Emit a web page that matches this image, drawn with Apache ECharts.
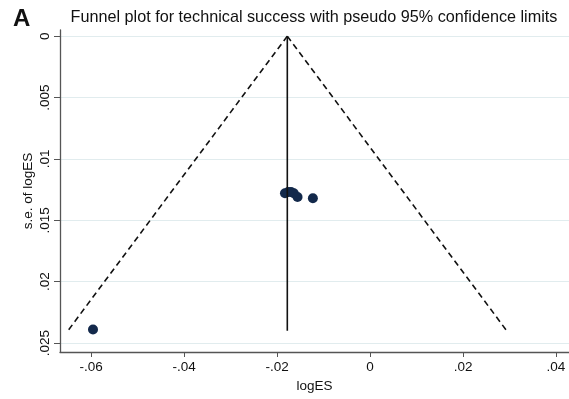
<!DOCTYPE html>
<html>
<head>
<meta charset="utf-8">
<script src="https://cdn.jsdelivr.net/npm/echarts@6/dist/echarts.min.js"></script>
<style>html,body{margin:0;padding:0;background:#fff}#c{width:569px;height:399px}</style>
</head>
<body>
<div id="c"></div>
<script>
// Study estimates
const logES = [-0.0183, -0.0176, -0.0170, -0.0164, -0.0156, -0.0123, -0.0596];
const seLogES = [0.0128, 0.0127, 0.0127, 0.0128, 0.0131, 0.0132, 0.0239];
// Pooled estimate and pseudo 95% limits (endpoints)
const pooledX = [-0.0178, -0.0178];
const pooledY = [0, 0.024];
const lowerX = [-0.0178, -0.0650];
const lowerY = [0, 0.024];
const upperX = [-0.0178, 0.0294];
const upperY = [0, 0.024];
// Ticks
const xTicks = [-0.06, -0.04, -0.02, 0, 0.02, 0.04];
const yTicks = [0, 0.005, 0.01, 0.015, 0.02, 0.025];

function stata(v) {
  if (Math.abs(v) < 1e-12) return '0';
  let s = String(+v.toFixed(4));
  return s.replace(/^(-?)0\./, '$1.');
}
const zip = (a, b) => a.map((v, i) => [v, b[i]]);

const chart = echarts.init(document.getElementById('c'));
const font = 'Liberation Sans, Arial, Helvetica, sans-serif';
chart.setOption({
  animation: false,
  backgroundColor: '#fff',
  title: [
    { text: 'Funnel plot for technical success with pseudo 95% confidence limits',
      left: 309, top: 5, textAlign: 'center',
      textStyle: { fontFamily: font, fontSize: 16.2, fontWeight: 'normal', color: '#111' } },
    { text: 'A', left: 8, top: 2,
      textStyle: { fontFamily: font, fontSize: 24, fontWeight: 'bold', color: '#111' } }
  ],
  grid: { left: 60, right: 0, top: 30, bottom: 47 },
  xAxis: {
    type: 'value', min: -0.0667, max: 0.0428,
    name: 'logES', nameLocation: 'middle', nameGap: 27, nameMoveOverlap: false,
    nameTextStyle: { fontFamily: font, fontSize: 13.5, color: '#111' },
    axisLine: { show: true, onZero: false, lineStyle: { color: '#555', width: 1.3 } },
    axisTick: { show: true, length: 5, customValues: xTicks, lineStyle: { color: '#555' } },
    axisLabel: { customValues: xTicks, formatter: stata, margin: 8,
      fontFamily: font, fontSize: 13.5, color: '#111' },
    splitLine: { show: false }
  },
  yAxis: {
    type: 'value', inverse: true, min: -0.0005, max: 0.02573,
    name: 's.e. of logES', nameLocation: 'middle', nameGap: 25, nameRotate: 90,
    nameMoveOverlap: false,
    nameTextStyle: { fontFamily: font, fontSize: 13.5, color: '#111' },
    axisLine: { show: true, onZero: false, lineStyle: { color: '#555', width: 1.3 } },
    axisTick: { show: true, length: 6, customValues: yTicks, lineStyle: { color: '#555' } },
    axisLabel: { customValues: yTicks, formatter: stata, rotate: 90, margin: 8,
      fontFamily: font, fontSize: 13.5, color: '#111' },
    splitLine: { show: true, lineStyle: { color: '#e1ecee', width: 1 } }
  },
  series: [
    { type: 'line', data: zip(lowerX, lowerY), symbol: 'none',
      lineStyle: { color: '#111', width: 1.6, type: [6, 4] } },
    { type: 'line', data: zip(upperX, upperY), symbol: 'none',
      lineStyle: { color: '#111', width: 1.6, type: [6, 4] } },
    { type: 'line', data: zip(pooledX, pooledY), symbol: 'none',
      lineStyle: { color: '#111', width: 1.6 } },
    { type: 'scatter', data: zip(logES, seLogES), symbol: 'circle', symbolSize: 10,
      itemStyle: { color: '#13294b', opacity: 1 } }
  ]
});
</script>
</body>
</html>
